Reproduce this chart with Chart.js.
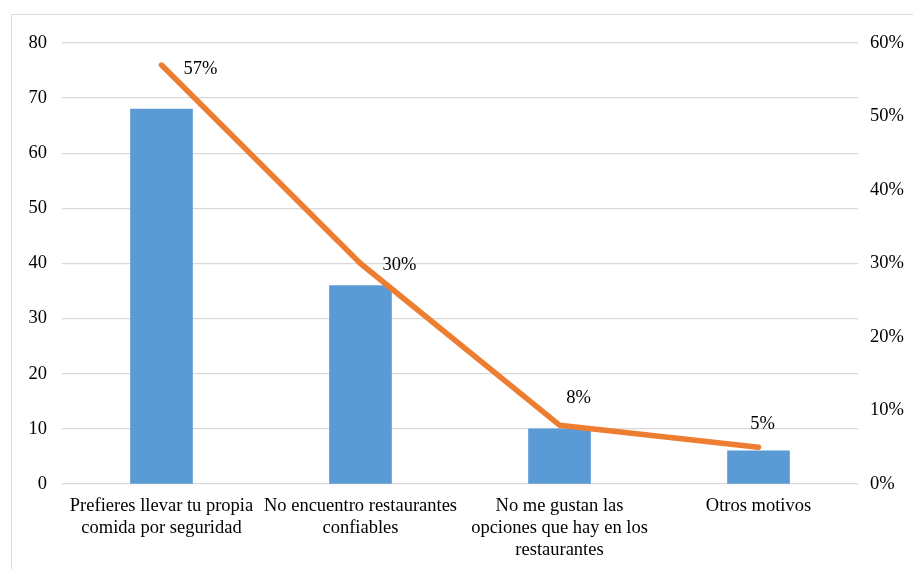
<!DOCTYPE html>
<html>
<head>
<meta charset="utf-8">
<script src="https://cdn.jsdelivr.net/npm/chart.js@4/dist/chart.umd.min.js"></script>
<style>
  html, body { margin: 0; padding: 0; background: #ffffff; }
  body { width: 913px; height: 569px; position: relative; overflow: hidden; }
  #frame { position: absolute; left: 11px; top: 14px; width: 1000px; height: 1000px;
           border: 1.5px solid #dcdcdc; box-sizing: border-box; }
  #wrap { position: absolute; left: 0; top: 0; width: 913px; height: 569px; }
</style>
</head>
<body>
<div id="frame"></div>
<div id="wrap"><canvas id="c" width="913" height="569"></canvas></div>
<script>
// Motivos (multi-line category labels)
const categories = [
  ['Prefieres llevar tu propia', 'comida por seguridad'],
  ['No encuentro restaurantes', 'confiables'],
  ['No me gustan las', 'opciones que hay en los', 'restaurantes'],
  ['Otros motivos']
];
// Respondents per reason
const counts = [68, 36, 10, 6];
// Share of respondents, in percent
const percents = [57, 30, 8, 5];
// Axis ranges
const countTicks = [0, 10, 20, 30, 40, 50, 60, 70, 80];
const percentTicks = [0, 10, 20, 30, 40, 50, 60];

const FONT = "'Liberation Serif', 'Times New Roman', serif";
const FONT_SIZE = 18.5;
// Label centre offset from its point, in pixels
const labelOffsets = [[39, 4], [39, 1.5], [19, -27], [4, -23]];

// Percentage labels beside the line points
const pctLabels = {
  id: 'pctLabels',
  afterDatasetsDraw(chart) {
    const meta = chart.getDatasetMeta(1);
    const ctx = chart.ctx;
    ctx.save();
    ctx.font = FONT_SIZE + "px " + FONT;
    ctx.fillStyle = '#000000';
    ctx.textAlign = 'center';
    ctx.textBaseline = 'middle';
    meta.data.forEach((pt, i) => {
      const [dx, dy] = labelOffsets[i];
      ctx.fillText(percents[i] + '%', pt.x + dx, pt.y + dy);
    });
    ctx.restore();
  }
};

new Chart(document.getElementById('c'), {
  data: {
    labels: categories,
    datasets: [
      {
        type: 'bar',
        data: counts,
        yAxisID: 'y',
        backgroundColor: '#5B9BD5',
        borderWidth: 0,
        barThickness: 62,
        order: 1
      },
      {
        type: 'line',
        data: percents,
        yAxisID: 'y1',
        borderColor: '#ED7D31',
        borderWidth: 5.5,
        borderCapStyle: 'round',
        borderJoinStyle: 'round',
        pointRadius: 0,
        tension: 0,
        order: 0
      }
    ]
  },
  options: {
    responsive: false,
    animation: false,
    layout: { padding: { top: 43, left: 0, right: 0, bottom: 0 } },
    plugins: { legend: { display: false }, tooltip: { enabled: false } },
    scales: {
      x: {
        grid: { display: false, drawTicks: false },
        border: { display: false },
        ticks: {
          color: '#000000',
          font: { family: FONT, size: FONT_SIZE, lineHeight: 1.2 },
          padding: 11,
          maxRotation: 0,
          autoSkip: false
        },
        afterFit(scale) { scale.height = 85; }
      },
      y: {
        position: 'left',
        min: 0, max: 80,
        afterBuildTicks(scale) { scale.ticks = countTicks.map(v => ({ value: v })); },
        grid: { color: '#d9d9d9', lineWidth: 1.3, drawTicks: false },
        border: { display: false },
        ticks: {
          color: '#000000',
          font: { family: FONT, size: FONT_SIZE },
          padding: 15
        },
        afterFit(scale) { scale.width = 62; }
      },
      y1: {
        position: 'right',
        min: 0, max: 60,
        afterBuildTicks(scale) { scale.ticks = percentTicks.map(v => ({ value: v })); },
        grid: { display: false, drawTicks: false },
        border: { display: false },
        ticks: {
          color: '#000000',
          font: { family: FONT, size: FONT_SIZE },
          padding: 12,
          callback: v => v + '%'
        },
        afterFit(scale) { scale.width = 55; }
      }
    }
  },
  plugins: [pctLabels]
});
</script>
</body>
</html>
